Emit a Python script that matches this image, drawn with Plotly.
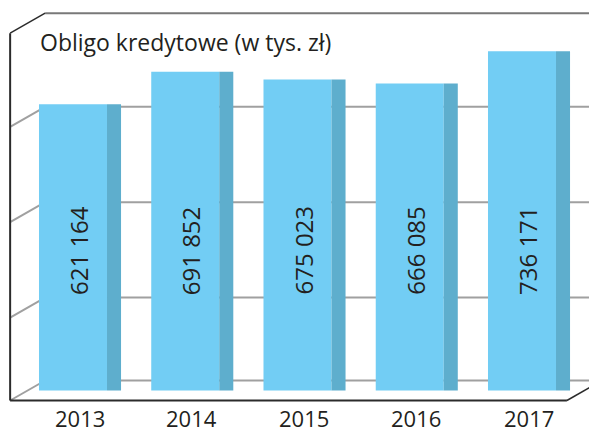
import plotly.graph_objects as go

# dane
YEARS = ["2013", "2014", "2015", "2016", "2017"]
VALUES = [621164, 691852, 675023, 666085, 736171]
GRID_VALUES = [0, 180000, 387000, 594000, 797000]   # linie siatki na tylnej ścianie
TITLE = "Obligo kredytowe (w tys. zł)"

FRONT = "#72CDF4"
SIDE = "#5EAECD"
GRID = "#A0A0A0"
FRAME = "#2B2B2B"
TEXT = "#231F20"
FONT = "Open Sans"

# strona ma domyślny margines 8 px, więc wykres jest o tyle mniejszy
PAGE_MARGIN = 8
W, H = 597 - PAGE_MARGIN, 427 - PAGE_MARGIN
PX_CAT = 112.25                # pikseli na kategorię
UNITS_PX = 2170                # jednostek wartości na piksel
X0_PX = 73 - PAGE_MARGIN       # środek pierwszego słupka
Y0_PX = 390.5 - PAGE_MARGIN    # poziom zera

FACE_W = 0.606           # szerokość przedniej ściany słupka
SIDE_W = 0.125           # szerokość bocznej ściany
DX = 35 / PX_CAT         # głębokość (skos) w poziomie
HY = 10 * UNITS_PX       # połowa głębokości w pionie
X_LEFT, X_RIGHT = -0.56, 4.40


def fmt(v):
    return f"{v:,}".replace(",", " ")


x = list(range(len(YEARS)))

fig = go.Figure()
fig.add_trace(go.Bar(x=x, y=VALUES, width=FACE_W, offset=-FACE_W / 2,
                     marker=dict(color=FRONT, line=dict(width=0)),
                     hoverinfo="skip", showlegend=False))
fig.add_trace(go.Bar(x=x, y=VALUES, width=SIDE_W, offset=FACE_W / 2,
                     marker=dict(color=SIDE, line=dict(width=0)),
                     hoverinfo="skip", showlegend=False))

shapes = []
top = GRID_VALUES[-1]
for g in GRID_VALUES:
    is_top = g == top
    # linia na tylnej ścianie
    shapes.append(dict(type="line", xref="x", yref="y", layer="below",
                       x0=X_LEFT + DX, x1=X_RIGHT + DX, y0=g + HY, y1=g + HY,
                       line=dict(color="#787878" if is_top else GRID, width=2)))
    # skos na lewej ścianie
    shapes.append(dict(type="line", xref="x", yref="y", layer="below",
                       x0=X_LEFT, x1=X_LEFT + DX, y0=g - HY, y1=g + HY,
                       line=dict(color=FRAME if is_top else GRID,
                                 width=1.5 if is_top else 2)))
# rama z przodu
shapes.append(dict(type="line", xref="x", yref="y", layer="below",
                   x0=X_LEFT, x1=X_LEFT, y0=-HY, y1=top - HY,
                   line=dict(color=FRAME, width=2)))
shapes.append(dict(type="line", xref="x", yref="y", layer="below",
                   x0=X_LEFT, x1=X_RIGHT, y0=-HY, y1=-HY,
                   line=dict(color=FRAME, width=2)))
shapes.append(dict(type="line", xref="x", yref="y", layer="below",
                   x0=X_RIGHT, x1=X_RIGHT + DX, y0=-HY, y1=HY,
                   line=dict(color=FRAME, width=1.5)))

annotations = []
for i, v in enumerate(VALUES):
    annotations.append(dict(x=i + 0.05, y=304000, xref="x", yref="y",
                            text=fmt(v), textangle=-90, showarrow=False,
                            font=dict(family=FONT, size=24, color=TEXT)))
for i, yr in enumerate(YEARS):
    annotations.append(dict(x=i + 0.06, y=(Y0_PX - (418 - PAGE_MARGIN)) * UNITS_PX,
                            xref="x", yref="y", text=yr, showarrow=False,
                            yanchor="middle",
                            font=dict(family=FONT, size=22, color=TEXT)))
annotations.append(dict(x=(38 - PAGE_MARGIN) / W, y=1 - (42 - PAGE_MARGIN) / H,
                        xref="paper", yref="paper",
                        text=TITLE, showarrow=False, xanchor="left",
                        yanchor="middle",
                        font=dict(family=FONT, size=23, color=TEXT)))

fig.update_layout(
    width=W, height=H,
    margin=dict(l=0, r=0, t=0, b=0, pad=0),
    paper_bgcolor="white", plot_bgcolor="white",
    barmode="overlay",
    xaxis=dict(visible=False, range=[-X0_PX / PX_CAT, (W - X0_PX) / PX_CAT],
               fixedrange=True),
    yaxis=dict(visible=False,
               range=[(Y0_PX - H) * UNITS_PX, Y0_PX * UNITS_PX],
               fixedrange=True),
    shapes=shapes,
    annotations=annotations,
)

fig.write_html("out.html")
